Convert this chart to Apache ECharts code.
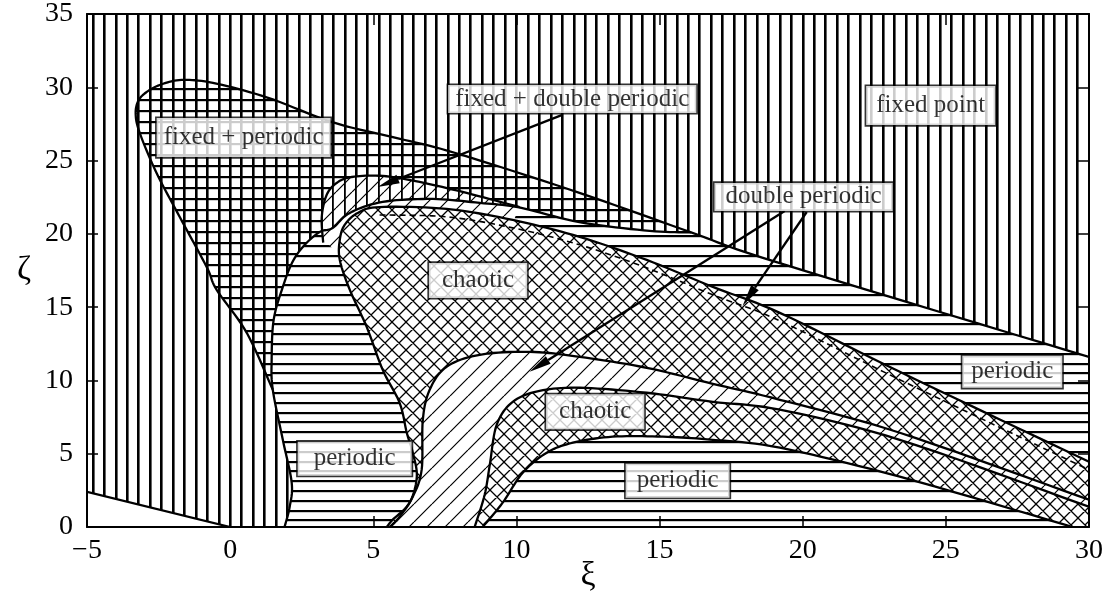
<!DOCTYPE html>
<html>
<head>
<meta charset="utf-8">
<script src="https://cdn.jsdelivr.net/npm/echarts@6/dist/echarts.min.js"></script>
<style>
  html, body { margin: 0; padding: 0; background: #fff; }
  #chart { width: 1112px; height: 591px; }
</style>
</head>
<body>
<div id="chart"></div>
<script>
// ---- axis ticks ----
const X_TICKS = [-5, 0, 5, 10, 15, 20, 25, 30];
const X_TICK_LABELS = ['\u22125', '0', '5', '10', '15', '20', '25', '30'];
const Y_TICKS = [0, 5, 10, 15, 20, 25, 30, 35];
const Y_TICK_LABELS = ['0', '5', '10', '15', '20', '25', '30', '35'];

// ---- region boundaries in (xi, zeta) ----
const FIXED_BOX = [[-5, 0], [-5, 35], [30, 35], [30, 0]];
const LOW_LEFT = [[-5, 2.4], [0, 0]];
// upper boundary of the fixed-point region (teardrop top continuing to the right edge)
const TOP_LINE = [[-3.2, 29.1], [-2.9, 29.7], [-2.4, 30.2], [-1.7, 30.5], [-0.6, 30.3], [1.3, 29.3],
  [3.6, 27.6], [5.9, 26.5], [7.9, 25.5], [12.2, 22.8], [16.1, 20.1], [19.2, 18.0], [30, 11.6]];
const TIP = 10; // index in TOP_LINE where the fixed+periodic wedge closes
// lower-left side of the fixed + periodic teardrop
const G_LEFT = [[-3.3, 28.2], [-3.16, 26.9], [-2.57, 24.15], [-1.76, 21.15], [-0.82, 17.74],
  [-0.47, 16.18], [0.58, 13.25], [1.49, 9.36]];
const G_FILL_ANCHOR = [[5.9, 15.5]];
// left edge of the large periodic region
const P_LEFT = [[1.9, 0], [2.08, 1.38], [2.15, 3.02], [1.84, 5.95], [1.49, 9.36], [1.45, 11.4],
  [1.52, 14.13], [1.84, 16.38], [2.18, 18.09], [2.6, 19.24], [3.13, 20.13]];
// fixed + double periodic crescent
const FD_OUTER = [[3.25, 19.4], [3.2, 21.15], [3.37, 22.65], [3.72, 23.47], [4.25, 23.88],
  [5.33, 23.95], [6.62, 23.54], [8.26, 22.79], [10.11, 21.83]];
const FD_INNER = [[8.72, 22.11], [7.08, 22.38], [5.33, 22.18], [4.18, 21.43], [3.58, 20.4]];
const WEDGE_LOW = [[10.1, 21.8], [12.2, 20.8], [14.65, 20.2], [16.1, 20.1]];
const DP_STRIP_TOP = [[3.3, 19.6], [3.5, 20.6], [4.1, 21.7], [5.3, 22.45], [7.1, 22.65], [8.7, 22.35],
  [10.11, 21.83], [9.9, 20.9], [9.0, 18.5], [5.2, 19.6], [4.0, 18.1]];
// chaotic region (upper) outline
const CH1_EDGE = [[5.47, 0], [5.68, 0.5], [6.27, 1.66], [6.52, 3.43], [6.38, 5.07], [6.17, 6.43],
  [5.92, 8.47], [5.33, 10.72], [4.77, 13.65], [4.18, 16.18], [3.83, 18.22], [3.83, 19.59],
  [4.0, 20.61], [4.46, 21.43], [5.22, 21.83], [7.56, 21.7], [9.87, 20.95], [12.21, 19.79],
  [14.55, 18.22], [16.86, 16.38], [19.2, 14.61], [23.39, 10.59], [30, 4.45]];
const CH1_DASH = [[5.22, 21.29], [7.56, 21.16], [9.87, 20.41], [12.21, 19.25], [14.55, 17.68],
  [16.86, 15.84], [19.2, 14.07], [23.39, 10.05], [30, 3.9]];
// double periodic band
const DP_EDGE = [[5.57, 0], [5.92, 0.7], [6.38, 2.07], [6.69, 3.91], [6.73, 7.31], [6.97, 9.36],
  [7.56, 10.93], [8.72, 11.75], [10.46, 11.95], [12.21, 11.61], [14.55, 10.86], [16.86, 9.77],
  [19.2, 8.68], [23.39, 6.43], [30, 1.86]];
// chaotic region (lower)
const CH2_EDGE = [[8.54, 0], [8.89, 2.2], [9.07, 4.25], [9.31, 6.97], [9.87, 8.54], [10.81, 9.29],
  [12.21, 9.5], [14.55, 9.16], [16.86, 8.54], [19.2, 8.0], [23.39, 5.95], [30, 1.38]];
// lower periodic region
const P2_EDGE = [[8.82, 0], [9.52, 1.66], [10.22, 3.7], [11.06, 5.07], [11.97, 5.75], [13.36, 6.16],
  [15.11, 6.16], [16.86, 5.95], [19.2, 5.41], [23.39, 3.43], [29.43, 0]];

// ---- annotations ----
const LABEL_TEXT = ['fixed + periodic', 'fixed + double periodic', 'fixed point', 'double periodic',
  'chaotic', 'chaotic', 'periodic', 'periodic', 'periodic'];
const LABEL_POS = [[0.47, 26.57], [11.95, 29.2], [24.47, 28.75], [20.03, 22.52],
  [8.66, 16.82], [12.75, 7.86], [4.35, 4.66], [27.32, 10.59], [15.63, 3.16]];
const LABEL_PAD = [[7, 7], [1.5, 7], [7, 10], [1.5, 11], [5, 13], [5, 13], [4.5, 16], [3.5, 9], [4.5, 11]];
const ARROWS = [[11.58, 28.1, 5.15, 23.2], [19.37, 21.56, 10.46, 10.59], [20.14, 21.49, 17.9, 15.09]];

const SERIF = '"Liberation Serif", "DejaVu Serif", serif';

// ---- hatch patterns ----
function hatch(w, h, draw) {
  const c = document.createElement('canvas');
  c.width = w; c.height = h;
  const ctx = c.getContext('2d');
  ctx.fillStyle = '#000';
  ctx.strokeStyle = '#000';
  draw(ctx, w, h);
  return { image: c, repeat: 'repeat' };
}
function vertical(step, lw) {
  const n = 20, w = Math.round(n * step);
  return hatch(w, 8, (ctx, W, H) => {
    for (let i = 0; i < n; i++) ctx.fillRect(Math.round(i * step), 0, lw, H);
  });
}
function horizontal(step, lw, n) {
  const h = Math.round(n * step);
  return hatch(8, h, (ctx, W, H) => {
    for (let i = 0; i < n; i++) ctx.fillRect(0, Math.round(i * step), W, lw);
  });
}
function diagonal(s, lw, both) {
  return hatch(s, s, (ctx) => {
    ctx.lineWidth = lw;
    ctx.beginPath();
    for (const k of [-s, 0, s]) {
      ctx.moveTo(k, s); ctx.lineTo(k + s, 0);
      if (both) { ctx.moveTo(k, 0); ctx.lineTo(k + s, s); }
    }
    ctx.stroke();
  });
}
const VERT = vertical(11.45, 2.6);
const VERT_THIN = vertical(11.45, 1.8);
const GRID_H = horizontal(11, 2.2, 1);
const HORIZ = horizontal(9.8, 2.2, 5);
const CROSS = diagonal(14, 1.3, true);
const DIAG = diagonal(18, 1.2, false);
const DIAG_FD = diagonal(16, 1.2, false);

const rev = (a) => a.slice().reverse();

// filled regions, painted in order
const REGIONS = [
  { parts: [[FIXED_BOX, false]], fills: ['#fff', VERT] },
  { parts: [[LOW_LEFT, false], [[[-5, 0]], false]], fills: ['#fff'] },
  { parts: [[rev(G_LEFT).concat(TOP_LINE.slice(0, TIP + 1)), true], [G_FILL_ANCHOR, false]], fills: ['#fff', VERT, GRID_H] },
  { parts: [[P_LEFT.concat(rev(FD_INNER), WEDGE_LOW), true], [TOP_LINE.slice(TIP), true], [[[30, 0]], false]], fills: ['#fff', HORIZ] },
  { parts: [[DP_STRIP_TOP, false]], fills: ['#fff', DIAG] },
  { parts: [[CH1_EDGE, true], [[[30, 0]], false]], fills: ['#fff', CROSS] },
  { parts: [[DP_EDGE, true], [[[30, 0]], false]], fills: ['#fff', DIAG] },
  { parts: [[CH2_EDGE, true], [[[30, 0]], false]], fills: ['#fff', CROSS] },
  { parts: [[P2_EDGE, true]], fills: ['#fff', HORIZ] },
  { parts: [[FD_OUTER, true], [FD_INNER, true]], fills: ['#fff', VERT_THIN, DIAG_FD] }
];

// boundary curves
const BOUNDARIES = [
  { pts: rev(G_LEFT).concat(TOP_LINE), dash: null },
  { pts: P_LEFT.concat(rev(FD_INNER), WEDGE_LOW), dash: null },
  { pts: FD_OUTER, dash: null },
  { pts: CH1_EDGE, dash: null },
  { pts: CH1_DASH, dash: [6, 4] },
  { pts: DP_EDGE, dash: null },
  { pts: CH2_EDGE, dash: null },
  { pts: P2_EDGE, dash: null },
  { pts: LOW_LEFT, dash: null }
];

// Catmull-Rom smoothing in pixel space
function smooth(p) {
  if (p.length < 3) return p.slice();
  const out = [];
  const f = (a, b, c, d, t) => {
    const t2 = t * t, t3 = t2 * t;
    return 0.5 * (2 * b + (-a + c) * t + (2 * a - 5 * b + 4 * c - d) * t2 + (-a + 3 * b - 3 * c + d) * t3);
  };
  for (let i = 0; i < p.length - 1; i++) {
    const p0 = p[Math.max(i - 1, 0)], p1 = p[i], p2 = p[i + 1], p3 = p[Math.min(i + 2, p.length - 1)];
    for (let k = 0; k < 10; k++) {
      const t = k / 10;
      out.push([f(p0[0], p1[0], p2[0], p3[0], t), f(p0[1], p1[1], p2[1], p3[1], t)]);
    }
  }
  out.push(p[p.length - 1]);
  return out;
}
function outline(api, parts) {
  let out = [];
  for (const [pts, sm] of parts) {
    const px = pts.map((d) => api.coord(d));
    out = out.concat(sm ? smooth(px) : px);
  }
  return out;
}

const series = [];
REGIONS.forEach((r, i) => {
  const verts = [];
  r.parts.forEach(([pts]) => pts.forEach((d) => verts.push(d)));
  series.push({
    type: 'custom', coordinateSystem: 'cartesian2d', z: 1 + i, clip: true, silent: true, animation: false,
    data: verts,
    renderItem: (params, api) => {
      if (params.dataIndex !== 0) return null;
      const pts = outline(api, r.parts);
      return {
        type: 'group',
        children: r.fills.map((f) => ({ type: 'polygon', shape: { points: pts }, style: { fill: f, stroke: null } }))
      };
    }
  });
});

BOUNDARIES.forEach((b) => {
  series.push({
    type: 'custom', coordinateSystem: 'cartesian2d', z: 20, clip: true, silent: true, animation: false,
    data: b.pts,
    renderItem: (params, api) => {
      if (params.dataIndex !== 0) return null;
      return {
        type: 'polyline',
        shape: { points: smooth(b.pts.map((d) => api.coord(d))) },
        style: { stroke: '#000', lineWidth: b.dash ? 1.6 : 2.3, fill: null, lineDash: b.dash }
      };
    }
  });
});

// arrows
series.push({
  type: 'custom', coordinateSystem: 'cartesian2d', z: 22, silent: true, animation: false,
  data: ARROWS,
  renderItem: (params, api) => {
    const a = api.coord([api.value(0), api.value(1)]);
    const b = api.coord([api.value(2), api.value(3)]);
    const dx = b[0] - a[0], dy = b[1] - a[1];
    const len = Math.hypot(dx, dy), ux = dx / len, uy = dy / len;
    const L = 22, W = 4.5;
    const base = [b[0] - ux * L, b[1] - uy * L];
    return {
      type: 'group',
      children: [
        { type: 'line', shape: { x1: a[0], y1: a[1], x2: base[0], y2: base[1] }, style: { stroke: '#000', lineWidth: 2.3 } },
        { type: 'polygon', shape: { points: [b, [base[0] - uy * W, base[1] + ux * W], [base[0] + uy * W, base[1] - ux * W]] }, style: { fill: '#000' } }
      ]
    };
  }
});

// text boxes
series.push({
  type: 'scatter', z: 30, silent: true, animation: false,
  symbolSize: 1, itemStyle: { color: 'rgba(0,0,0,0)' },
  label: {
    show: true, position: 'inside', formatter: '{b}', color: '#000',
    fontFamily: SERIF, fontSize: 25, lineHeight: 25,
    textBorderWidth: 0, textShadowBlur: 0,
    backgroundColor: '#fff', borderColor: '#000', borderWidth: 1.6
  },
  data: LABEL_TEXT.map((t, i) => ({ name: t, value: LABEL_POS[i], label: { padding: LABEL_PAD[i] } }))
});

const tickFmt = (ticks, labels) => (v) => {
  const i = ticks.indexOf(v);
  return i >= 0 ? labels[i] : '';
};
const axisLine = { show: true, onZero: false, lineStyle: { color: '#000', width: 2 } };
const axisTick = { show: true, inside: true, length: 11, lineStyle: { color: '#000', width: 1.5 } };

const chart = echarts.init(document.getElementById('chart'), null, { renderer: 'canvas' });
chart.setOption({
  backgroundColor: '#fff',
  animation: false,
  grid: { left: 87, right: 23, top: 14, bottom: 64, containLabel: false, outerBoundsMode: 'none' },
  xAxis: [
    {
      type: 'value', min: -5, max: 30, interval: 5, position: 'bottom', z: 40,
      axisLine, axisTick, splitLine: { show: false },
      axisLabel: { color: '#000', fontFamily: SERIF, fontSize: 28, margin: 10, formatter: tickFmt(X_TICKS, X_TICK_LABELS) },
      name: '\u03BE', nameLocation: 'middle', nameGap: 32, nameMoveOverlap: false,
      nameTextStyle: { color: '#000', fontFamily: SERIF, fontSize: 34 }
    },
    {
      type: 'value', min: -5, max: 30, interval: 5, position: 'top', z: 40,
      axisLine, axisTick, splitLine: { show: false }, axisLabel: { show: false }
    }
  ],
  yAxis: [
    {
      type: 'value', min: 0, max: 35, interval: 5, position: 'left', z: 40,
      axisLine, axisTick, splitLine: { show: false },
      axisLabel: { color: '#000', fontFamily: SERIF, fontSize: 28, margin: 14, formatter: tickFmt(Y_TICKS, Y_TICK_LABELS) },
      name: '\u03B6', nameLocation: 'middle', nameGap: 56, nameRotate: 0, nameMoveOverlap: false,
      nameTextStyle: { color: '#000', fontFamily: SERIF, fontSize: 34 }
    },
    {
      type: 'value', min: 0, max: 35, interval: 5, position: 'right', z: 40,
      axisLine, axisTick, splitLine: { show: false }, axisLabel: { show: false }
    }
  ],
  series
});
</script>
</body>
</html>
